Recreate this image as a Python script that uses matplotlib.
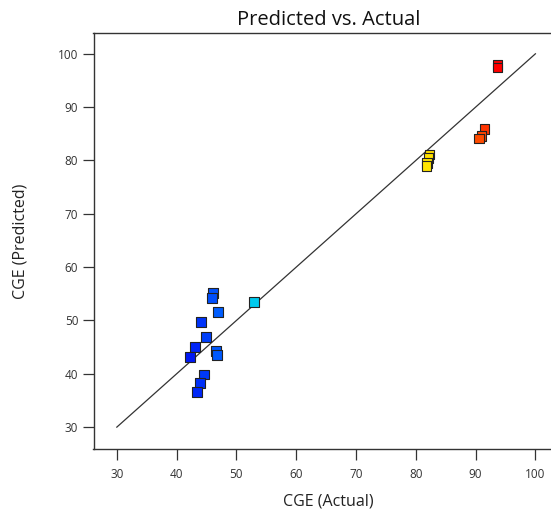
import numpy as np
import matplotlib
matplotlib.use("Agg")
import matplotlib.pyplot as plt
from matplotlib.colors import LinearSegmentedColormap, Normalize

plt.rcParams['font.family'] = ['Open Sans', 'DejaVu Sans']

# CGE runs: actual vs. model-predicted
actual = [46.1, 45.9, 46.9, 44.1, 44.9, 43.1, 42.2, 46.6, 46.75, 44.6, 43.9, 43.4,
          52.9, 82.3, 82.1, 81.9, 81.8, 91.5, 91.0, 90.6, 93.65, 93.65]
predicted = [55.2, 54.2, 51.6, 49.7, 46.9, 45.0, 43.1, 44.3, 43.5, 39.9, 38.3, 36.6,
             53.5, 81.1, 80.5, 79.5, 79.0, 85.9, 84.6, 84.1, 97.9, 97.4]
ticks = [30, 40, 50, 60, 70, 80, 90, 100]

# blue -> cyan -> yellow -> red colouring by actual value
cmap = LinearSegmentedColormap.from_list("resp", [
    (0.00, "#0018f5"), (0.10, "#0064ff"), (0.21, "#00ccee"),
    (0.50, "#40e040"), (0.77, "#ffe600"), (0.95, "#ff4400"), (1.00, "#ff0000")])
norm = Normalize(vmin=min(actual), vmax=max(actual))

fig = plt.figure(figsize=(5.51, 5.13), dpi=100)
# right edge runs past the canvas, so the right spine is clipped off
ax = fig.add_axes([93.5 / 551, 1 - 449 / 513, 470 / 551, (449 - 33) / 513])

ax.plot([30, 100], [30, 100], color="#333333", lw=0.9, zorder=1)
ax.scatter(actual, predicted, c=actual, cmap=cmap, norm=norm, marker="s", s=48,
           edgecolors="#222222", linewidths=0.8, zorder=3)

ax.set_xlim(26.1, 104.7)
ax.set_ylim(25.9, 103.9)
ax.set_xticks(ticks)
ax.set_yticks(ticks)
ax.tick_params(direction="out", length=8, width=0.9, colors="#333333",
               labelsize=8.5, pad=3)
ax.tick_params(axis="x", pad=6)
for s in ax.spines.values():
    s.set_color("#333333")
    s.set_linewidth(1.0)

ax.set_xlabel("CGE (Actual)", fontsize=11.5, labelpad=9, color="#222222")
ax.set_ylabel("CGE (Predicted)", fontsize=11.5, labelpad=21, color="#222222")
ax.set_title("Predicted vs. Actual", fontsize=14.5, pad=6, color="#111111")

fig.savefig("out.png", dpi=100)
